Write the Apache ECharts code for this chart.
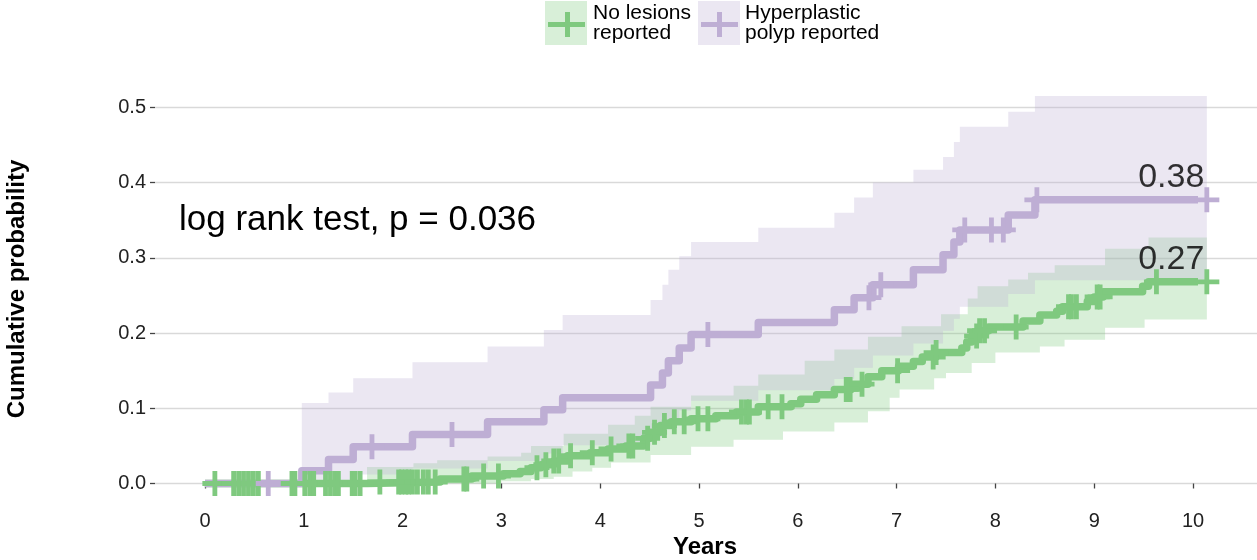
<!DOCTYPE html>
<html><head><meta charset="utf-8">
<script src="https://cdn.jsdelivr.net/npm/echarts@6/dist/echarts.min.js"></script>
<style>html,body{margin:0;padding:0;background:#fff}#c{width:1257px;height:560px}</style>
</head><body><div id="c"></div>
<script>
// ---- data ----
const xTicks = [0,1,2,3,4,5,6,7,8,9,10];
const yTicks = [0,0.1,0.2,0.3,0.4,0.5];
const endTime = 10.14;

const greenTimes  = [0, 1.64, 2.38, 2.70, 3.02, 3.19, 3.30, 3.40, 3.53, 3.67, 3.90, 4.08, 4.26, 4.44, 4.51, 4.61, 4.72, 4.92, 5.17, 5.38, 5.60, 5.93, 6.03, 6.19, 6.37, 6.54, 6.71, 6.85, 7.02, 7.17, 7.26, 7.40, 7.66, 7.71, 7.76, 7.82, 7.93, 8.28, 8.45, 8.62, 8.68, 8.93, 9.00, 9.09, 9.49, 9.55];
const greenValues = [0, 0.002, 0.006, 0.010, 0.013, 0.016, 0.021, 0.025, 0.030, 0.037, 0.041, 0.046, 0.050, 0.060, 0.068, 0.077, 0.082, 0.086, 0.090, 0.095, 0.102, 0.106, 0.112, 0.118, 0.125, 0.132, 0.142, 0.150, 0.156, 0.162, 0.168, 0.174, 0.180, 0.188, 0.196, 0.203, 0.208, 0.216, 0.224, 0.229, 0.235, 0.242, 0.248, 0.255, 0.262, 0.268];
const greenUpperTimes = [1.64, 2.11, 2.35, 2.86, 3.20, 3.30, 3.63, 4.08, 4.35, 4.51, 4.92, 5.35, 5.60, 6.07, 6.37, 6.71, 7.05, 7.45, 7.72, 7.82, 8.13, 8.33, 8.60, 9.11, 9.55];
const greenUpper      = [0.022, 0.027, 0.031, 0.036, 0.041, 0.050, 0.066, 0.078, 0.090, 0.102, 0.117, 0.130, 0.145, 0.163, 0.178, 0.195, 0.209, 0.225, 0.246, 0.262, 0.271, 0.280, 0.290, 0.312, 0.327];
const greenLowerTimes = [1.64, 3.00, 3.30, 3.53, 3.72, 3.92, 4.11, 4.51, 4.92, 5.35, 5.85, 6.37, 6.71, 6.93, 7.03, 7.38, 7.50, 7.76, 8.00, 8.45, 8.70, 9.11, 9.51];
const greenLower      = [0, 0.003, 0.006, 0.009, 0.016, 0.021, 0.028, 0.038, 0.049, 0.058, 0.069, 0.081, 0.096, 0.114, 0.125, 0.140, 0.147, 0.160, 0.174, 0.182, 0.191, 0.207, 0.218];
const greenCensor = [0.10, 0.29, 0.34, 0.39, 0.44, 0.49, 0.54, 0.88, 0.91, 1.01, 1.06, 1.10, 1.22, 1.27, 1.32, 1.35, 1.49, 1.52, 1.57, 1.77, 1.96, 1.99, 2.03, 2.06, 2.10, 2.15, 2.21, 2.26, 2.33, 2.62, 2.65, 2.82, 2.97, 3.36, 3.45, 3.53, 3.58, 3.70, 3.92, 4.11, 4.29, 4.33, 4.48, 4.55, 4.65, 4.75, 4.85, 4.99, 5.09, 5.43, 5.48, 5.51, 5.70, 5.84, 6.49, 6.53, 6.65, 7.01, 7.37, 7.40, 7.81, 7.84, 7.89, 8.21, 8.74, 8.77, 8.82, 9.03, 9.06, 9.63, 10.14];

const purpleTimes  = [0, 0.98, 1.25, 1.50, 2.10, 2.86, 3.43, 3.62, 4.51, 4.63, 4.69, 4.80, 4.92, 5.60, 6.37, 6.57, 6.76, 7.17, 7.47, 7.58, 7.64, 8.13, 8.40];
const purpleValues = [0, 0.017, 0.032, 0.049, 0.065, 0.082, 0.098, 0.114, 0.131, 0.147, 0.163, 0.180, 0.198, 0.214, 0.231, 0.247, 0.264, 0.284, 0.304, 0.321, 0.337, 0.357, 0.377];
const purpleBandTimes = [0.98, 1.25, 1.50, 2.10, 2.86, 3.43, 3.62, 4.51, 4.63, 4.69, 4.80, 4.92, 5.60, 6.37, 6.57, 6.76, 7.17, 7.47, 7.58, 7.64, 8.13, 8.40];
const purpleUpper = [0.107, 0.121, 0.140, 0.161, 0.182, 0.204, 0.224, 0.244, 0.264, 0.284, 0.302, 0.321, 0.340, 0.360, 0.380, 0.400, 0.417, 0.434, 0.454, 0.474, 0.494, 0.515];
const purpleLower = [0.000, 0.004, 0.012, 0.020, 0.030, 0.040, 0.051, 0.062, 0.073, 0.085, 0.097, 0.110, 0.124, 0.139, 0.154, 0.170, 0.186, 0.203, 0.219, 0.235, 0.252, 0.270];
const purpleCensor = [0.64, 1.69, 2.50, 5.09, 6.72, 6.84, 7.69, 7.96, 8.08, 8.42, 10.14];

const groupNames = ['No lesions\nreported', 'Hyperplastic\npolyp reported'];
const pValueText = 'log rank test, p = 0.036';

// ---- helpers ----
const GREEN = '#7fc97f', PURPLE = '#beaed4';
const GREEN_FILL = 'rgba(127,201,127,0.3)', PURPLE_FILL = 'rgba(190,174,212,0.3)';
const FONT = '"Liberation Sans", Arial, Helvetica, sans-serif';

function valueAt(times, values, t) {
  let v = values[0];
  for (let i = 0; i < times.length; i++) if (times[i] <= t + 1e-9) v = values[i];
  return v;
}
function stepData(times, values) {
  const d = times.map((t, i) => [t, values[i]]);
  d.push([endTime, values[values.length - 1]]);
  return d;
}
function stepPath(times, vals) {
  const pts = [];
  for (let i = 0; i < times.length; i++) {
    const t1 = i < times.length - 1 ? times[i + 1] : endTime;
    pts.push([times[i], vals[i]], [t1, vals[i]]);
  }
  return pts;
}
function bandSeries(upT, up, loT, lo, fill) {
  return {
    type: 'custom', xAxisIndex: 1, yAxisIndex: 1, silent: true, clip: false, z: 1,
    data: upT.map((t, i) => [t, up[i]]),
    encode: { x: 0, y: 1 },
    renderItem: function (params, api) {
      if (params.dataIndex !== 0) return null;
      const upper = stepPath(upT, up);
      const lower = stepPath(loT, lo).reverse();
      const pts = upper.concat(lower).map(p => api.coord(p));
      return { type: 'polygon', shape: { points: pts }, style: { fill: fill } };
    }
  };
}
const PLUS = 'path://M10.5,0H15.5V10.5H26V15.5H15.5V26H10.5V15.5H0V10.5H10.5Z';
function censorSeries(times, stepT, stepV, color) {
  return {
    type: 'scatter', xAxisIndex: 1, yAxisIndex: 1, silent: true, clip: false, z: 4,
    symbol: PLUS, symbolSize: 25,
    itemStyle: { color: color, opacity: 1 },
    data: times.map(t => [t, valueAt(stepT, stepV, t)])
  };
}
function lineSeries(times, values, color) {
  return {
    type: 'line', xAxisIndex: 1, yAxisIndex: 1, step: 'end', silent: true, clip: false, z: 3,
    showSymbol: false, symbol: 'none',
    lineStyle: { color: color, width: 7.5, join: 'round', cap: 'butt' },
    data: stepData(times, values)
  };
}
function endLabel(value) {
  return {
    type: 'scatter', xAxisIndex: 1, yAxisIndex: 1, silent: true, clip: false, z: 5,
    symbolSize: 1, itemStyle: { color: 'rgba(0,0,0,0)' },
    data: [[endTime, value]],
    label: { show: true, position: [0, 0], align: 'right', verticalAlign: 'bottom', offset: [-2, -5],
      formatter: () => value.toFixed(2), fontSize: 34, fontFamily: FONT, color: '#000' }
  };
}

const chart = echarts.init(document.getElementById('c'), null, { renderer: 'canvas' });
const GRID_TOP = 107.3, GRID_BOTTOM = 76.5;
const option = {
  animation: false,
  backgroundColor: '#fff',
  grid: [
    { left: 155, right: 0, top: GRID_TOP, bottom: GRID_BOTTOM },
    { left: 205, right: 64, top: GRID_TOP, bottom: GRID_BOTTOM }
  ],
  xAxis: [
    { gridIndex: 0, type: 'value', min: 0, max: 1, show: false },
    { gridIndex: 1, type: 'value', min: xTicks[0], max: xTicks[xTicks.length - 1], interval: 1, offset: 18.5,
      axisLine: { show: false }, splitLine: { show: false },
      axisTick: { show: true, length: 5, lineStyle: { color: '#444', width: 1.3 } },
      axisLabel: { margin: 9, fontSize: 20, fontFamily: FONT, color: '#222' } }
  ],
  yAxis: [
    { gridIndex: 0, type: 'value', min: yTicks[0], max: yTicks[yTicks.length - 1], interval: 0.1,
      axisLine: { show: false },
      axisTick: { show: true, length: 5, lineStyle: { color: '#444', width: 1.3 } },
      axisLabel: { margin: 9, fontSize: 20, fontFamily: FONT, color: '#222', formatter: v => v.toFixed(1) },
      splitLine: { show: true, lineStyle: { color: '#d9d9d9', width: 1.4 } } },
    { gridIndex: 1, type: 'value', min: yTicks[0], max: yTicks[yTicks.length - 1], interval: 0.1, show: false }
  ],
  series: [
    bandSeries(greenUpperTimes, greenUpper, greenLowerTimes, greenLower, GREEN_FILL),
    bandSeries(purpleBandTimes, purpleUpper, purpleBandTimes, purpleLower, PURPLE_FILL),
    lineSeries(greenTimes, greenValues, GREEN),
    lineSeries(purpleTimes, purpleValues, PURPLE),
    censorSeries(greenCensor, greenTimes, greenValues, GREEN),
    censorSeries(purpleCensor, purpleTimes, purpleValues, PURPLE),
    endLabel(purpleValues[purpleValues.length - 1]),
    endLabel(greenValues[greenValues.length - 1])
  ],
  graphic: [
    { type: 'text', left: 179, top: 203, style: { text: pValueText, font: '35px ' + FONT, fill: '#000' } },
    { type: 'text', x: 17, y: 289, rotation: Math.PI / 2, style: { text: 'Cumulative probability', font: 'bold 24px ' + FONT, fill: '#000', align: 'center', verticalAlign: 'middle' } },
    { type: 'text', x: 705, y: 547, style: { text: 'Years', font: 'bold 24px ' + FONT, fill: '#000', align: 'center', verticalAlign: 'middle' } },
    // legend
    { type: 'rect', shape: { x: 545, y: 1, width: 42, height: 44 }, style: { fill: GREEN_FILL } },
    { type: 'rect', shape: { x: 548, y: 22, width: 37, height: 5 }, style: { fill: GREEN } },
    { type: 'rect', shape: { x: 565, y: 12, width: 5, height: 25 }, style: { fill: GREEN } },
    { type: 'text', x: 593, y: 3, style: { text: groupNames[0], font: '21px ' + FONT, lineHeight: 20, fill: '#000' } },
    { type: 'rect', shape: { x: 698, y: 1, width: 42, height: 44 }, style: { fill: PURPLE_FILL } },
    { type: 'rect', shape: { x: 701, y: 22, width: 37, height: 5 }, style: { fill: PURPLE } },
    { type: 'rect', shape: { x: 717, y: 12, width: 5, height: 25 }, style: { fill: PURPLE } },
    { type: 'text', x: 745, y: 3, style: { text: groupNames[1], font: '21px ' + FONT, lineHeight: 20, fill: '#000' } }
  ]
};
chart.setOption(option);
</script>
</body></html>
